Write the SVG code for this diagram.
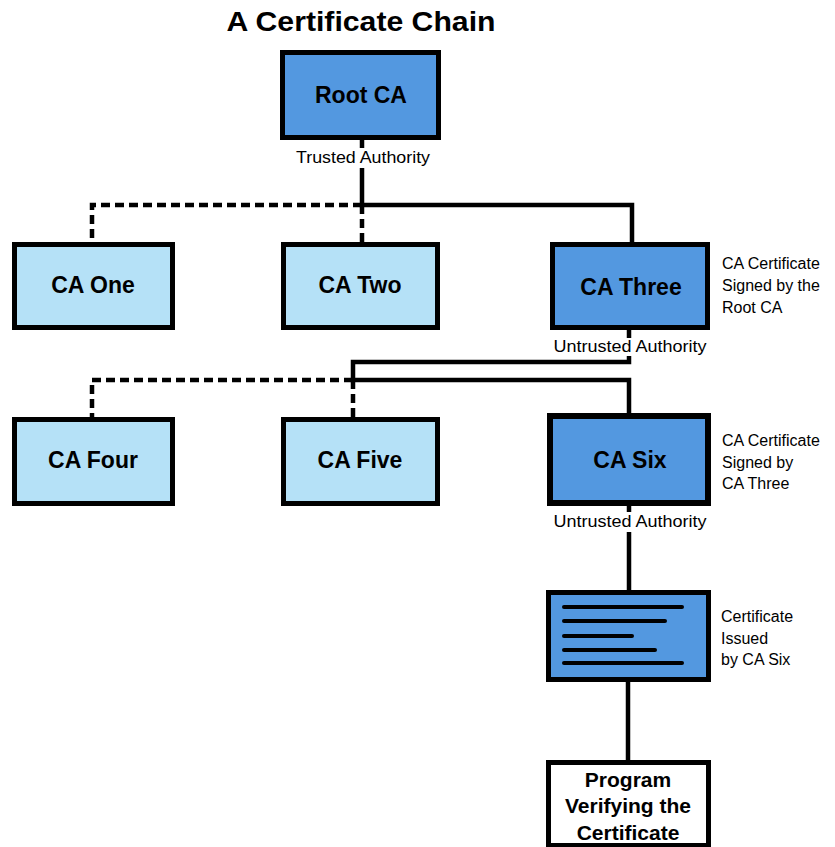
<svg xmlns="http://www.w3.org/2000/svg" width="835" height="847" viewBox="0 0 835 847">
<style>
  .box { stroke: #000; stroke-width: 5; }
  .dark { fill: #5398e0; }
  .light { fill: #b5e1f7; }
  .white { fill: #ffffff; }
  .lbl { font-family: "Liberation Sans", Arial, sans-serif; font-weight: bold; font-size: 23px; fill: #000; text-anchor: middle; }
  .note { font-family: "Liberation Sans", Arial, sans-serif; font-size: 16px; fill: #000; }
  .mid { text-anchor: middle; }
  .conn { fill: none; stroke: #000; stroke-width: 4.5; }
  .dash { stroke-dasharray: 9 5; }
  .tl { stroke: #000; stroke-width: 4; stroke-linecap: round; }
</style>
<rect width="835" height="847" fill="#ffffff"/>
<text x="361" y="31" class="lbl" font-size="27" style="font-size:27px" textLength="269" lengthAdjust="spacingAndGlyphs">A Certificate Chain</text>

<g id="connectors">
  <path class="conn" d="M362 140 V148 M362 168 V205 H632 V242"/>
  <path class="conn dash" d="M362 205 H92 V242"/>
  <path class="conn dash" d="M362 205 V242"/>
  <path class="conn" d="M629 330 V338 M629 356 V362 H353 V380 H629 V415"/>
  <path class="conn dash" d="M353 380 H92 V417"/>
  <path class="conn dash" d="M353 380 V417"/>
  <path class="conn" d="M629 506 V512 M629 532 V590"/>
  <path class="conn" d="M628 682 V760"/>
  <text x="363" y="163" class="note mid" textLength="134" lengthAdjust="spacingAndGlyphs">Trusted Authority</text>
  <text x="630" y="352" class="note mid" textLength="153" lengthAdjust="spacingAndGlyphs">Untrusted Authority</text>
  <text x="630" y="527" class="note mid" textLength="153" lengthAdjust="spacingAndGlyphs">Untrusted Authority</text>
</g>

<g id="root-ca">
  <rect class="box dark" x="282.5" y="52.5" width="156" height="85"/>
  <text x="361" y="103" class="lbl">Root CA</text>
</g>
<g id="ca-one">
  <rect class="box light" x="14.5" y="244.5" width="158" height="83"/>
  <text x="93" y="293" class="lbl">CA One</text>
</g>
<g id="ca-two">
  <rect class="box light" x="283.5" y="244.5" width="154" height="83"/>
  <text x="360" y="293" class="lbl">CA Two</text>
</g>
<g id="ca-three">
  <rect class="box dark" x="552.5" y="244.5" width="155" height="83"/>
  <text x="631" y="295" class="lbl">CA Three</text>
  <text class="note"><tspan x="722" y="269">CA Certificate</tspan><tspan x="722" y="291">Signed by the</tspan><tspan x="722" y="313">Root CA</tspan></text>
</g>
<g id="ca-four">
  <rect class="box light" x="14.5" y="419.5" width="158" height="84"/>
  <text x="93" y="468" class="lbl">CA Four</text>
</g>
<g id="ca-five">
  <rect class="box light" x="283.5" y="419.5" width="154" height="84"/>
  <text x="360" y="468" class="lbl">CA Five</text>
</g>
<g id="ca-six">
  <rect class="box dark" x="550" y="416" width="158" height="87" style="stroke-width:6"/>
  <text x="630" y="468" class="lbl">CA Six</text>
  <text class="note"><tspan x="722" y="446">CA Certificate</tspan><tspan x="722" y="468">Signed by</tspan><tspan x="722" y="489">CA Three</tspan></text>
</g>
<g id="certificate">
  <rect class="box dark" x="548.5" y="592.5" width="160" height="87"/>
  <line class="tl" x1="564" y1="607" x2="682" y2="607"/>
  <line class="tl" x1="564" y1="621" x2="665" y2="621"/>
  <line class="tl" x1="564" y1="636" x2="632" y2="636"/>
  <line class="tl" x1="564" y1="650" x2="655" y2="650"/>
  <line class="tl" x1="564" y1="663" x2="682" y2="663"/>
  <text class="note"><tspan x="721" y="622">Certificate</tspan><tspan x="721" y="644">Issued</tspan><tspan x="721" y="665">by CA Six</tspan></text>
</g>
<g id="program">
  <rect class="box white" x="548.5" y="762.5" width="160" height="83"/>
  <text class="lbl" style="font-size:21px"><tspan x="628" y="787">Program</tspan><tspan x="628" y="813">Verifying the</tspan><tspan x="628" y="840">Certificate</tspan></text>
</g>
</svg>
